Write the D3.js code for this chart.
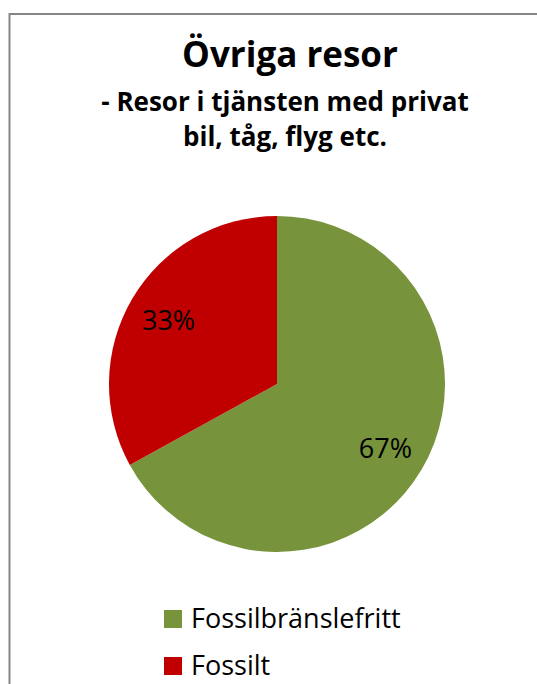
<!DOCTYPE html>
<html>
<head>
<meta charset="utf-8">
<script src="https://cdn.jsdelivr.net/npm/d3@7"></script>
<style>
  body { margin: 0; background: #fff; }
  svg { display: block; font-family: "Open Sans", Lato, sans-serif; }
</style>
</head>
<body>
<div class="chart"></div>
<script>
// chart data
const categories = ["Fossilbränslefritt", "Fossilt"];
const values = [67, 33];
const colors = ["#77933C", "#C00000"];
const titleLines = ["Övriga resor"];
const subtitleLines = ["- Resor i tjänsten med privat", "bil, tåg, flyg etc."];

const width = 537;
const height = 684;

let svg = d3.select(".chart")
  .append("svg")
  .attr("width", width)
  .attr("height", height);

// chart frame (runs off the right and bottom edges)
svg.append("rect")
  .attr("x", 9.5)
  .attr("y", 14)
  .attr("width", 600)
  .attr("height", 800)
  .attr("fill", "#fff")
  .attr("stroke", "#868686")
  .attr("stroke-width", 2);

// titles
svg.append("text")
  .attr("x", 290)
  .attr("y", 67)
  .attr("text-anchor", "middle")
  .attr("font-weight", "bold")
  .attr("font-size", 35)
  .text(titleLines[0]);

svg.selectAll(".subtitle")
  .data(subtitleLines)
  .enter().append("text")
  .attr("class", "subtitle")
  .attr("x", 285)
  .attr("y", (d, i) => 111 + i * 35)
  .attr("text-anchor", "middle")
  .attr("font-weight", "bold")
  .attr("font-size", 26)
  .text(d => d);

// pie
const cx = 277, cy = 384, radius = 168;

let pie = d3.pie().sort(null).value(d => d);
let arc = d3.arc().innerRadius(0).outerRadius(radius);
let labelArc = d3.arc().innerRadius(radius * 0.75).outerRadius(radius * 0.75);

let g = svg.append("g").attr("transform", "translate(" + cx + "," + cy + ")");
let arcs = pie(values);

g.selectAll("path")
  .data(arcs)
  .enter().append("path")
  .attr("d", arc)
  .attr("fill", (d, i) => colors[i]);

let total = d3.sum(values);
g.selectAll(".label")
  .data(arcs)
  .enter().append("text")
  .attr("class", "label")
  .attr("transform", d => "translate(" + labelArc.centroid(d) + ")")
  .attr("text-anchor", "middle")
  .attr("dy", "0.38em")
  .attr("font-size", 27)
  .attr("fill", "#000")
  .text(d => Math.round(d.value / total * 100) + "%");

// legend
let legend = svg.selectAll(".legend")
  .data(categories)
  .enter().append("g")
  .attr("class", "legend")
  .attr("transform", (d, i) => "translate(164," + (610 + i * 47) + ")");

legend.append("rect")
  .attr("width", 18)
  .attr("height", 18)
  .attr("fill", (d, i) => colors[i]);

legend.append("text")
  .attr("x", 27)
  .attr("y", 18)
  .attr("font-size", 27)
  .attr("fill", "#000")
  .text(d => d);
</script>
</body>
</html>
